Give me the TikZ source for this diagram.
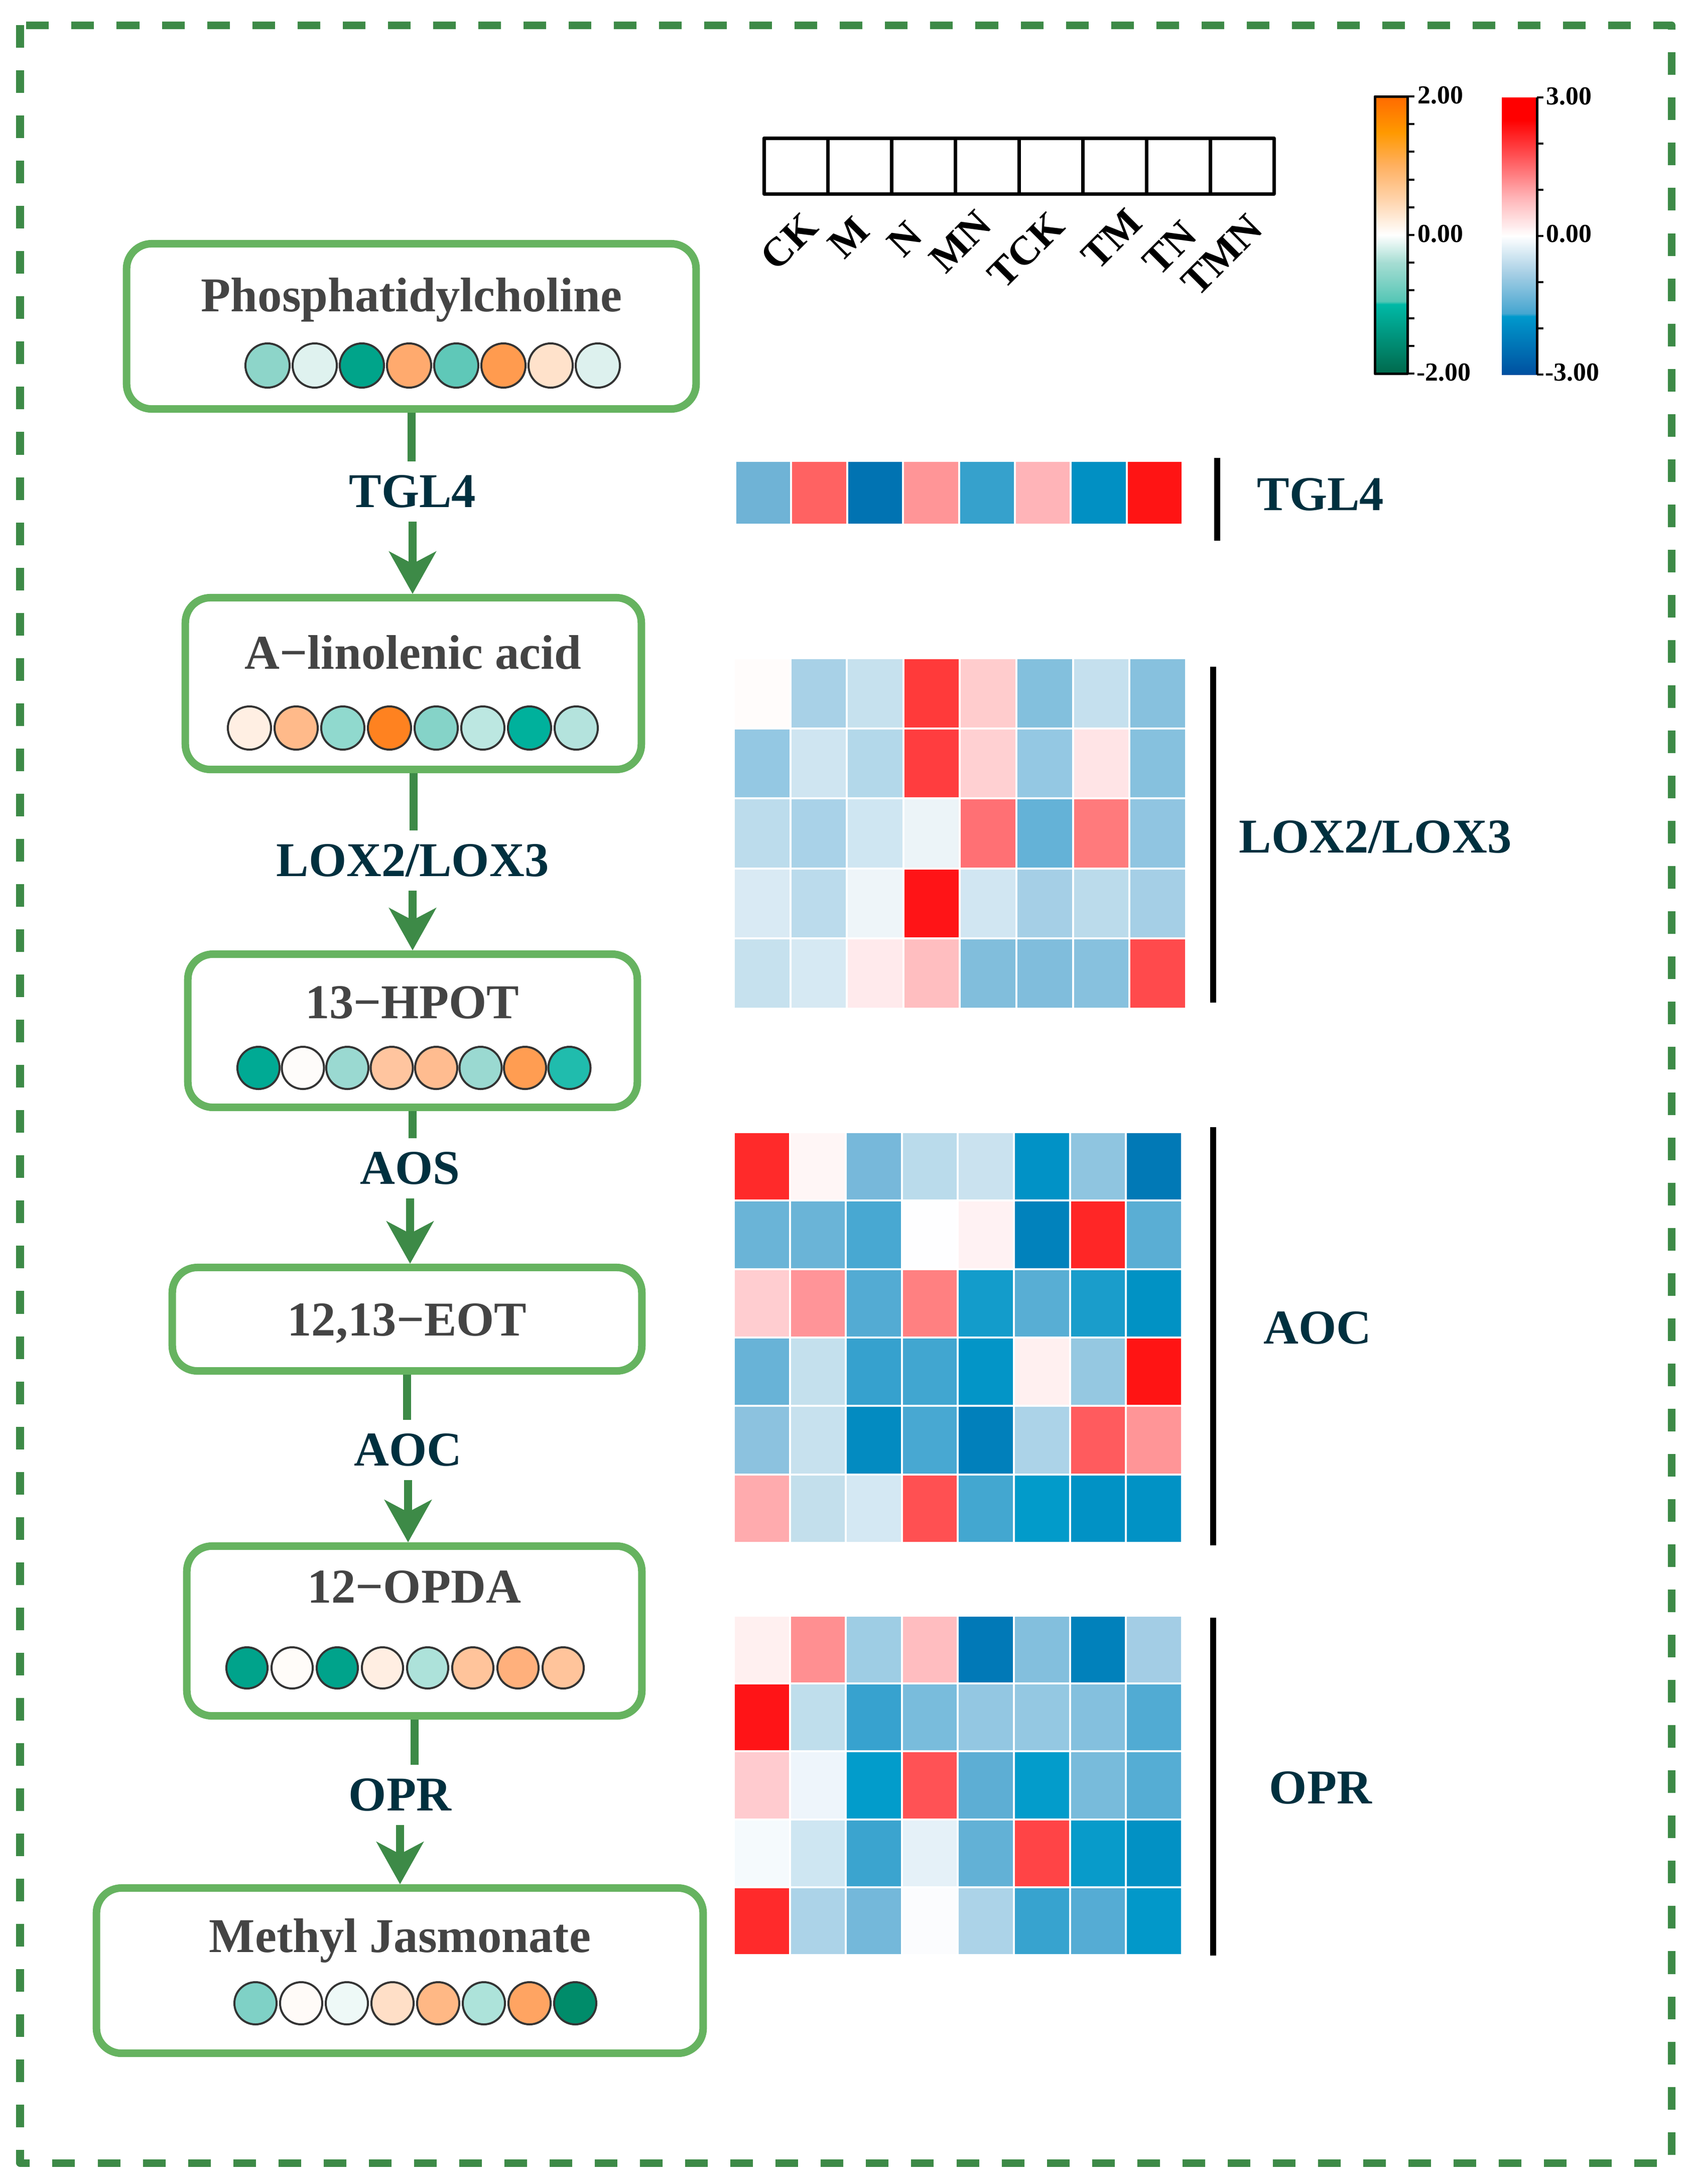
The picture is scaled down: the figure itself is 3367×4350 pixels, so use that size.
\documentclass[tikz,border=0pt]{standalone}
\usepackage{fontspec}
\setmainfont{Liberation Serif}
\usetikzlibrary{arrows.meta}
\definecolor{boxgreen}{HTML}{66B360}
\definecolor{arrowgreen}{HTML}{3D8A47}
\definecolor{cmpdgray}{HTML}{444444}
\definecolor{enzblue}{HTML}{00303F}
\definecolor{og0}{HTML}{00694C}
\definecolor{og1}{HTML}{00B9A6}
\definecolor{og2}{HTML}{55C6B5}
\definecolor{og3}{HTML}{A6DDD3}
\definecolor{og4}{HTML}{FFD6B0}
\definecolor{og5}{HTML}{FFB060}
\definecolor{og6}{HTML}{FF9900}
\definecolor{og7}{HTML}{FF6A00}
\definecolor{rb0}{HTML}{0050A0}
\definecolor{rb1}{HTML}{0099CC}
\definecolor{rb2}{HTML}{45A6D0}
\definecolor{rb3}{HTML}{A3CDE4}
\definecolor{rb4}{HTML}{FFB3B6}
\definecolor{rb5}{HTML}{FF4A4D}
\definecolor{rb6}{HTML}{FF0000}
\pgfdeclareverticalshading{orgreen}{100bp}{color(0bp)=(og0); color(25bp)=(og0); color(37.5bp)=(og1); color(38bp)=(og2); color(45bp)=(og3); color(50bp)=(white); color(56bp)=(og4); color(62.5bp)=(og5); color(68.5bp)=(og6); color(75bp)=(og7); color(100bp)=(og7)}
\pgfdeclareverticalshading{redblue}{100bp}{color(0bp)=(rb0); color(25bp)=(rb0); color(35.5bp)=(rb1); color(36bp)=(rb2); color(43bp)=(rb3); color(50bp)=(white); color(57bp)=(rb4); color(65bp)=(rb5); color(71bp)=(rb6); color(100bp)=(rb6)}
\begin{document}
\begin{tikzpicture}[x=0.01cm, y=-0.01cm, line join=round,
  pbox/.style={draw=boxgreen, line width=0.15cm, rounded corners=0.5cm, fill=white},
  cmpd/.style={font=\bfseries\fontsize{27.5}{30}\selectfont, text=cmpdgray, anchor=base, inner sep=0pt},
  enz/.style={font=\bfseries\fontsize{27.5}{30}\selectfont, text=enzblue, inner ysep=0.27cm, inner xsep=0pt},
  gene/.style={font=\bfseries\fontsize{27.5}{30}\selectfont, text=enzblue, inner sep=0pt},
  hdr/.style={font=\bfseries\fontsize{23}{26}\selectfont, rotate=45, inner sep=0pt},
  cbar/.style={font=\bfseries\fontsize{14.7}{16}\selectfont, anchor=west, inner sep=0pt},
  dotc/.style={draw=black!80, line width=0.04cm},
  stem/.style={draw=arrowgreen, line width=0.16cm},
  flow/.style={stem, -{Stealth[length=0.84cm, width=0.93cm, inset=0.24cm]}},
  cellbox/.style={draw=white, line width=0.04cm}]
\fill[white] (0,0) rectangle (3367,4350);
\useasboundingbox (0,0) rectangle (3367,4350);
\draw[arrowgreen, line width=0.15cm, dash pattern=on 0.45cm off 0.45cm] (40,50) rectangle (3330,4308);

\node[pbox, minimum width=11.34cm, minimum height=3.29cm] (pc) at (819.5,650) {};
\node[cmpd] (pcT) at (820,620) {Phosphatidylcholine};
\foreach \c [count=\i from 0] in {8DD5C9,DFF2EF,00A48A,FFAA6E,5FC8B8,FF9B4F,FFE2CB,DDF1EE}
  {\definecolor{dotfill}{HTML}{\c}\draw[dotc, fill=dotfill] (533+94*\i,728) circle[radius=0.44cm];}

\node[pbox, minimum width=9.08cm, minimum height=3.42cm] (ala) at (823.5,1361.5) {};
\node[cmpd] (alaT) at (823,1332) {A−linolenic acid};
\foreach \c [count=\i from 0] in {FFEFE3,FFBA8A,90D9CE,FF8220,85D3C8,BCE7E1,00B19C,B4E3DD}
  {\definecolor{dotfill}{HTML}{\c}\draw[dotc, fill=dotfill] (497+93*\i,1450) circle[radius=0.43cm];}

\node[pbox, minimum width=8.95cm, minimum height=3.05cm] (hpot) at (822,2053) {};
\node[cmpd] (hpotT) at (821,2028) {13−HPOT};
\foreach \c [count=\i from 0] in {00AA94,FEFCFA,9AD9D1,FFC59F,FFBC90,9AD9D1,FF9D52,20BCAD}
  {\definecolor{dotfill}{HTML}{\c}\draw[dotc, fill=dotfill] (515+88.5*\i,2127) circle[radius=0.42cm];}

\node[pbox, minimum width=9.35cm, minimum height=2.06cm] (eot) at (811,2627.5) {};
\node[cmpd] (eotT) at (811,2660) {12,13−EOT};

\node[pbox, minimum width=9.06cm, minimum height=3.38cm] (opda) at (825.5,3248.5) {};
\node[cmpd] (opdaT) at (825,3192) {12−OPDA};
\foreach \c [count=\i from 0] in {00A38B,FFFCF9,00A38B,FFEEE2,ADE2DA,FFC49B,FFB07C,FFC49B}
  {\definecolor{dotfill}{HTML}{\c}\draw[dotc, fill=dotfill] (492+90*\i,3322) circle[radius=0.41cm];}

\node[pbox, minimum width=12.08cm, minimum height=3.29cm] (meja) at (796.5,3925) {};
\node[cmpd] (mejaT) at (797,3888) {Methyl Jasmonate};
\foreach \c [count=\i from 0] in {7FD1C6,FFFBF8,EEF9F7,FFDFC7,FFB885,ADE3DA,FFA462,008C6A}
  {\definecolor{dotfill}{HTML}{\c}\draw[dotc, fill=dotfill] (509+91*\i,3990) circle[radius=0.42cm];}

\node[enz] (tgl) at (822,979) {TGL4};
\node[enz] (lox) at (822,1714) {LOX2/LOX3};
\node[enz] (aos) at (817,2327) {AOS};
\node[enz] (aoc) at (813,2888) {AOC};
\node[enz] (opr) at (797,3575) {OPR};
\draw[stem] (pc.south) -- (pc.south |- tgl.north);
\draw[flow] (tgl.south) -- (tgl.south |- ala.north);
\draw[stem] (ala.south) -- (ala.south |- lox.north);
\draw[flow] (lox.south) -- (lox.south |- hpot.north);
\draw[stem] (hpot.south) -- (hpot.south |- aos.north);
\draw[flow] (aos.south) -- (aos.south |- eot.north);
\draw[stem] (eot.south) -- (eot.south |- aoc.north);
\draw[flow] (aoc.south) -- (aoc.south |- opda.north);
\draw[stem] (opda.south) -- (opda.south |- opr.north);
\draw[flow] (opr.south) -- (opr.south |- meja.north);

\draw[line width=0.07cm] (1522,275) rectangle (2538,386);
\foreach \i in {1,...,7} \draw[line width=0.07cm] (1522+127*\i,275) -- (1522+127*\i,386);
\node[hdr] (hCK) at (1572,481) {CK};
\node[hdr] (hM) at (1691,473) {M};
\node[hdr] (hN) at (1802,476) {N};
\node[hdr] (hMN) at (1913,481) {MN};
\node[hdr] (hTCK) at (2044,498) {TCK};
\node[hdr] (hTM) at (2215,476) {TM};
\node[hdr] (hTN) at (2330,494) {TN};
\node[hdr] (hTMN) at (2434,508) {TMN};

\shade[shading=orgreen] (2739,192) rectangle (2804,744);
\draw[line width=0.05cm] (2739,192) rectangle (2804,744);
\foreach \t in {0,...,10} \draw[line width=0.04cm] (2804,192+55.2*\t) -- ++(14,0);
\node[cbar] (og2) at (2824,190) {2.00};
\node[cbar] (og0) at (2824,466) {0.00};
\node[cbar] (ogm2) at (2822,742) {-2.00};
\shade[shading=redblue] (2992,194) rectangle (3062,746);
\draw[line width=0.05cm] (3062,194) -- (3062,746);
\foreach \t in {0,...,6} \draw[line width=0.04cm] (3062,194+92*\t) -- ++(13,0);
\node[cbar] (rb3) at (3080,192) {3.00};
\node[cbar] (rb0) at (3080,466) {0.00};
\node[cbar] (rbm3) at (3078,742) {-3.00};

\foreach \c [count=\k from 0] in {6FB3D6,FF6262,0173B2,FF9597,36A1CC,FFB4B8,0190C3,FF1414}
  {\definecolor{cellc}{HTML}{\c}\path[cellbox, fill=cellc] (1465+111.4*\k,918) rectangle +(111.4,127);}
\foreach \row [count=\r from 0] in {{FFFCFB,A8D1E7,C6E1EE,FF3A3A,FFCCCD,83C0DD,C5E0EE,87C1DE},{94C8E3,CFE5F1,B3D8EA,FF3D3F,FFD0D2,94C8E3,FFE4E6,86C1DE},{BCDCEC,A9D2E8,CFE6F2,ECF4F8,FF7074,64B2D7,FF7A7C,90C5E1},{D9EAF4,BBDBEC,EEF5F9,FF1417,D1E6F2,A5CFE6,BBDBEB,A5CFE6},{C6E1EE,D6E9F3,FFEAEC,FFBEC0,81BEDC,80BDDC,87C1DE,FF4A4C}}
  \foreach \c [count=\k from 0] in \row
    {\definecolor{cellc}{HTML}{\c}\path[cellbox, fill=cellc] (1462+112.6*\k,1311+139.6*\r) rectangle +(112.6,139.6);}
\foreach \row [count=\r from 0] in {{FF2A2A,FFF6F6,77B8DA,BADBEB,CAE2EF,0192C6,8FC5E0,0179B6},{6AB4D7,6AB4D7,48A8D2,FEFEFF,FFF2F3,0182BC,FF2626,5AAED4},{FFCDD0,FF9498,53ABD3,FF8081,139CCB,58AED4,1A9DCB,0192C4},{68B3D7,C4E0ED,36A1CE,41A6D0,0395C7,FFF0F0,95C8E1,FF1414},{8CC2DF,C7E1EE,038BC1,48A8D2,0180BB,ACD3E8,FF5B5E,FF9597},{FFABAE,C3DFEC,D4E8F3,FF5052,43A7D0,029BCA,0192C5,0192C5}}
  \foreach \c [count=\k from 0] in \row
    {\definecolor{cellc}{HTML}{\c}\path[cellbox, fill=cellc] (1462+111.6*\k,2255+136.3*\r) rectangle +(111.6,136.3);}
\foreach \row [count=\r from 0] in {{FFF0F0,FF8F91,9ECDE4,FFBDC0,0179B7,83BFDD,0181BB,A3CDE5},{FF1417,BFDEEC,37A2CF,79BCDC,93C7E2,94C8E2,84C0DE,51ABD3},{FFCBCF,EEF5FB,029CCB,FF5255,5DAED4,039CCB,78BBDB,55ADD4},{F5FAFD,CEE6F2,3BA4CF,E5F1F8,62B1D6,FF4446,089BCA,0291C4},{FF2A2B,ACD3E8,74B8DA,FBFCFE,ACD3E8,37A3CF,55ACD4,0298C9}}
  \foreach \c [count=\k from 0] in \row
    {\definecolor{cellc}{HTML}{\c}\path[cellbox, fill=cellc] (1462+111.6*\k,3218+135.2*\r) rectangle +(111.6,135.2);}

\draw[line width=0.12cm] (2425,912) -- (2425,1077);
\draw[line width=0.12cm] (2417,1328) -- (2417,1997);
\draw[line width=0.12cm] (2417,2245) -- (2417,3078);
\draw[line width=0.12cm] (2417,3222) -- (2417,3895);
\node[gene] (gTGL) at (2631,985) {TGL4};
\node[gene] (gLOX) at (2740,1667) {LOX2/LOX3};
\node[gene] (gAOC) at (2625,2645) {AOC};
\node[gene] (gOPR) at (2631,3561) {OPR};
\end{tikzpicture}
\end{document}
